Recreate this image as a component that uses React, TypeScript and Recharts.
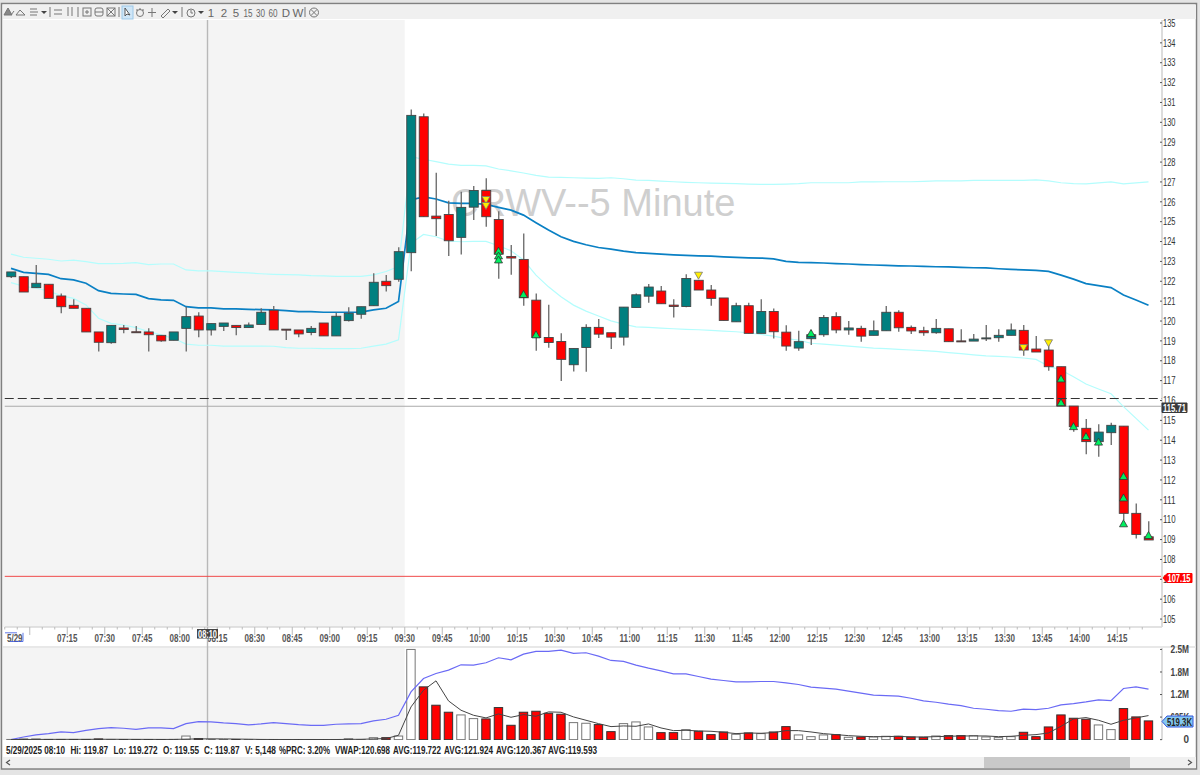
import React from "react";
import { ComposedChart, Bar, Line, XAxis, YAxis, ReferenceArea, ReferenceLine } from "recharts";

const times = ["06:50","06:55","07:00","07:05","07:10","07:15","07:20","07:25","07:30","07:35","07:40","07:45","07:50","07:55","08:00","08:05","08:10","08:15","08:20","08:25","08:30","08:35","08:40","08:45","08:50","08:55","09:00","09:05","09:10","09:15","09:20","09:25","09:30","09:35","09:40","09:45","09:50","09:55","10:00","10:05","10:10","10:15","10:20","10:25","10:30","10:35","10:40","10:45","10:50","10:55","11:00","11:05","11:10","11:15","11:20","11:25","11:30","11:35","11:40","11:45","11:50","11:55","12:00","12:05","12:10","12:15","12:20","12:25","12:30","12:35","12:40","12:45","12:50","12:55","13:00","13:05","13:10","13:15","13:20","13:25","13:30","13:35","13:40","13:45","13:50","13:55","14:00","14:05","14:10","14:15","14:20","14:25"];
const opens = [122.23,122.23,121.68,121.85,121.26,120.79,120.64,119.45,118.91,119.65,119.46,119.45,119.28,119.03,119.63,120.25,119.55,119.73,119.78,119.67,119.83,120.54,119.59,119.55,119.42,119.90,119.25,120.02,120.34,120.77,122.00,122.10,123.44,130.28,125.28,125.36,124.21,125.73,126.57,125.11,123.25,123.10,121.05,119.17,118.97,117.80,118.67,119.68,119.41,119.19,120.68,121.25,121.51,120.80,120.73,122.05,121.56,121.16,119.96,120.77,119.38,120.48,119.44,118.64,119.11,119.31,120.22,119.55,119.63,119.28,119.51,120.44,119.68,119.51,119.41,119.61,119.00,118.99,119.13,119.16,119.28,119.53,118.59,118.54,117.70,115.72,114.60,113.93,114.38,114.71,110.32,109.14];
const closes = [122.47,121.46,121.90,121.14,120.72,120.64,119.45,118.93,119.78,119.57,119.44,119.31,119.00,119.45,120.22,119.55,119.87,119.90,119.67,119.80,120.44,119.55,119.57,119.35,119.63,119.25,120.24,120.39,120.72,121.95,121.78,123.49,130.35,125.25,125.15,124.04,125.72,126.57,125.25,123.37,123.17,121.17,119.17,118.92,118.07,118.62,119.68,119.34,119.19,120.70,121.32,121.71,120.87,120.73,122.14,121.56,121.14,120.03,120.77,119.38,120.48,119.46,118.74,118.96,119.31,120.18,119.55,119.65,119.24,119.51,120.44,119.66,119.50,119.41,119.63,118.96,118.98,119.09,119.15,119.28,119.55,118.54,118.44,117.70,115.72,114.68,113.93,114.41,114.75,110.32,109.26,108.98];
const highs = [122.47,122.23,122.82,121.85,121.39,121.09,120.64,119.45,119.78,119.80,119.75,119.63,119.28,119.45,120.72,120.44,119.87,119.90,119.78,119.92,120.64,120.76,119.59,119.55,119.75,119.90,120.42,120.69,120.72,122.40,122.32,123.71,130.65,130.45,127.46,126.05,126.51,126.79,127.18,125.53,123.82,124.41,121.39,120.82,119.38,118.62,119.84,120.10,119.41,120.70,121.39,121.86,121.76,121.10,122.36,122.05,121.81,121.16,120.92,120.92,121.10,120.63,119.79,119.51,119.55,120.30,120.44,120.00,119.76,120.03,120.75,120.54,119.78,119.71,120.10,119.61,119.58,119.35,119.80,119.58,119.88,119.80,119.24,118.79,117.70,115.72,115.07,114.80,114.88,114.71,110.82,109.92];
const lows = [122.17,121.46,121.68,121.14,120.39,120.64,119.45,118.46,118.85,119.38,119.44,118.46,118.96,119.03,118.46,119.18,119.272,119.50,119.28,119.67,119.83,119.55,119.05,119.18,119.28,119.25,119.25,119.97,120.12,120.77,121.48,121.98,122.51,125.25,124.28,123.27,123.35,125.08,124.74,122.13,122.33,120.77,118.50,118.65,116.98,117.46,117.45,119.14,118.59,118.77,120.68,120.92,120.87,120.18,120.69,121.56,120.77,120.03,119.96,119.38,119.38,119.12,118.50,118.50,118.79,119.21,119.38,119.31,118.96,119.28,119.51,119.46,119.35,119.26,119.36,118.96,118.98,118.99,118.99,118.96,119.28,118.25,118.44,117.50,115.72,114.43,113.30,113.17,113.76,109.98,109.06,108.98];
const avgMid = [122.65,122.45,122.40,122.35,122.13,122.07,121.90,121.53,121.39,121.36,121.34,121.13,121.06,121.04,120.72,120.66,120.66,120.61,120.61,120.59,120.57,120.56,120.52,120.47,120.47,120.44,120.44,120.44,120.45,120.56,120.64,120.98,126.09,126.25,126.14,125.95,125.92,125.92,125.87,125.72,125.58,125.33,124.95,124.58,124.24,124.01,123.84,123.70,123.62,123.52,123.44,123.40,123.37,123.33,123.30,123.28,123.27,123.23,123.20,123.18,123.17,123.13,123.00,122.95,122.94,122.92,122.89,122.87,122.84,122.82,122.80,122.78,122.77,122.75,122.73,122.72,122.70,122.68,122.67,122.63,122.60,122.57,122.55,122.50,122.31,122.11,121.88,121.78,121.68,121.31,121.06,120.79];
const avgUpper = [123.37,123.21,123.16,123.11,123.02,123.06,122.99,122.89,122.89,122.90,122.94,122.84,122.87,122.87,122.57,122.52,122.52,122.49,122.45,122.42,122.38,122.35,122.33,122.32,122.28,122.27,122.25,122.25,122.25,122.32,122.49,122.74,128.27,128.14,128.02,127.90,127.83,127.83,127.81,127.65,127.56,127.45,127.33,127.24,127.23,127.21,127.19,127.18,127.21,127.16,127.09,127.08,127.04,127.01,126.98,126.96,126.94,126.93,126.91,126.89,126.88,126.88,126.89,126.91,126.96,126.96,126.96,126.96,127.00,127.00,127.01,127.01,127.01,127.03,127.05,127.05,127.05,127.08,127.08,127.08,127.08,127.08,127.10,127.05,126.96,126.91,126.90,126.95,127.00,126.90,126.95,127.00];
const avgLower = [121.93,121.76,121.65,121.51,121.28,121.14,120.81,120.14,119.88,119.80,119.67,119.47,119.30,119.13,118.84,118.78,118.78,118.74,118.74,118.74,118.74,118.73,118.66,118.63,118.63,118.61,118.61,118.61,118.63,118.74,118.84,119.05,123.91,124.36,124.24,124.02,123.99,124.01,124.01,123.79,123.54,123.07,122.31,121.72,121.22,120.80,120.50,120.25,120.01,119.84,119.71,119.68,119.64,119.61,119.58,119.56,119.53,119.49,119.46,119.41,119.32,119.24,119.11,119.04,118.88,118.84,118.79,118.74,118.69,118.64,118.61,118.57,118.54,118.51,118.47,118.41,118.36,118.30,118.25,118.22,118.19,118.14,118.07,117.73,117.53,117.20,116.83,116.58,116.34,115.69,115.10,114.51];
const greenMarks = [[39,123.54],[39,123.3],[39,123.1],[41,121.36],[42,119.33],[64,119.40],[84,117.11],[84,115.91],[85,114.71],[86,114.21],[87,113.93],[89,112.2],[89,111.12],[89,109.82],[91,109.23]];
const yellowMarks = [[38,126.09],[38,125.79],[55,122.28],[81,118.64],[83,118.88]];
const volumes = [5,15,20,5,5,5,5,20,5,4,4,4,4,6,100,30,5.148,4,3,3,3,4,3,3,3,3,4,25,5,55,55,100,2500,1463,954,760,685,583,574,889,398,760,787,731,704,472,454,417,222,444,491,352,194,194,278,231,139,213,148,185,167,213,361,130,83,130,139,65,74,74,93,93,74,65,102,111,111,111,74,56,83,204,83,352,685,593,565,407,278,861,630,519.3];
const volAvgBlue = [0,74,130,167,213,194,259,306,333,315,287,324,324,306,444,500,491,463,444,407,435,472,444,417,398,398,426,435,444,519,565,676,1324,1695,1833,1926,2074,2065,2130,2269,2213,2371,2445,2445,2482,2389,2408,2315,2195,2167,2065,1982,1908,1824,1824,1750,1676,1639,1602,1602,1611,1611,1574,1528,1454,1426,1398,1343,1287,1232,1222,1204,1148,1074,1037,982,945,870,843,806,787,843,833,870,963,1000,1046,1102,1083,1417,1463,1398];
const volAvgBlack = [2,4,6,7,8,8,8,10,10,9,8,7,6,6,14,20,22,20,16,12,6,4,4,4,4,3,3,8,9,20,30,120,907,1370,1630,1074,815,676,602,713,620,694,648,769,759,630,537,444,361,380,370,435,324,250,259,241,232,204,167,185,176,194,250,250,213,167,139,111,93,83,83,93,74,74,83,93,102,102,102,83,93,120,139,185,370,574,611,537,426,537,602,667];
const priceTicks = [105,106,107,108,109,110,111,112,113,114,115,116,117,118,119,120,121,122,123,124,125,126,127,128,129,130,131,132,133,134,135];
const volumeTicks = [0,625,1250,1875,2500];
const volumeTickLabels = ["0","625K","1.2M","1.8M","2.5M"];
const statusSegments = [
  ["5/29/2025 08:10", 6, 59], ["Hi: 119.87", 70.5, 37.5], ["Lo: 119.272", 113.5, 44], ["O: 119.55", 163, 36],
  ["C: 119.87", 204, 35.5], ["V: 5,148", 245, 31], ["%PRC: 3.20%", 279, 51], ["VWAP:120.698", 335, 55],
  ["AVG:119.722", 393, 48], ["AVG:121.924", 444, 49], ["AVG:120.367", 496, 50], ["AVG:119.593", 548, 49],
] as const;
const toolbarLabels = [["1",211],["2",224],["5",236],["15",248],["30",260.5],["60",273],["D",286],["W",298]] as const;

const FONT = '"Liberation Sans", Arial, sans-serif';
const TEAL = "#008080";
const RED = "#ff0000";

const markKey = (rows: any[], marks: number[][], prefix: string) => {
  const seen: Record<number, number> = {};
  marks.forEach(([i, p]) => {
    seen[i] = (seen[i] || 0) + 1;
    rows[i][prefix + seen[i]] = p;
  });
};
const priceRows: any[] = times.map((t, i) => ({
  t, o: opens[i], h: highs[i], l: lows[i], c: closes[i],
  range: [lows[i], highs[i]], mid: avgMid[i], upper: avgUpper[i], lower: avgLower[i],
}));
markKey(priceRows, greenMarks, "g");
markKey(priceRows, yellowMarks, "y");
const volumeRows = times.map((t, i) => ({ t, v: volumes[i], up: closes[i] >= opens[i], blue: volAvgBlue[i], black: volAvgBlack[i] }));

const Candle = (p: any) => {
  const { x, y, width, height, payload } = p;
  const { o, h, l, c } = payload;
  const k = height / (h - l);
  const top = y + (h - Math.max(o, c)) * k;
  const bh = Math.max(Math.abs(o - c) * k, 1);
  const cx = x + width / 2;
  return (
    <g>
      <line x1={cx} x2={cx} y1={y} y2={y + height} stroke="#666" strokeWidth={1.3} />
      <rect x={x} y={top} width={width} height={bh} fill={c >= o ? TEAL : RED} stroke="#444" strokeWidth={0.9} />
    </g>
  );
};

const VolBar = (p: any) => {
  const { x, y, width, height, payload } = p;
  return <rect x={x} y={y} width={width} height={Math.max(height, 0.6)} fill={payload.up ? "#fff" : RED} stroke={payload.up ? "#777" : "#333"} strokeWidth={1} />;
};

const tri = (color: string, stroke: string, down: boolean) => (p: any) => {
  const { cx, cy, value, key } = p;
  if (value == null || cy == null) return <g key={key} />;
  const d = down
    ? `M${cx - 4},${cy - 3.5}L${cx + 4},${cy - 3.5}L${cx},${cy + 3.5}Z`
    : `M${cx - 4},${cy + 3.5}L${cx + 4},${cy + 3.5}L${cx},${cy - 3.5}Z`;
  return <path key={key} d={d} fill={color} stroke={stroke} strokeWidth={0.8} />;
};
const GreenTri = tri("#00f060", "#333", false);
const YellowTri = tri("#ffee00", "#777", true);

const TimeTick = (p: any) => {
  const { x, y, payload } = p;
  const t: string = payload.value;
  const major = /:(00|15|30|45)$/.test(t);
  const tx = x - 6.25;
  return (
    <g>
      <line x1={tx} x2={tx} y1={y} y2={y + (major ? 8 : 2.5)} stroke="#bbb" strokeWidth={1} />
      {major && t !== "07:00" ? (
        <text x={tx} y={y + 14.5} textAnchor="middle" fontFamily={FONT} fontSize={10} fontWeight={700} fill="#555" textLength={20.5} lengthAdjust="spacingAndGlyphs">{t}</text>
      ) : null}
    </g>
  );
};

const PriceTick = (p: any) => {
  const { x, y, payload } = p;
  return (
    <g>
      <line x1={x - 2} x2={x} y1={y} y2={y} stroke="#555" strokeWidth={1} />
      <text x={x + 1} y={y + 3.7} fontFamily={FONT} fontSize={10} fill="#333" textLength={12.5} lengthAdjust="spacingAndGlyphs">{payload.value}</text>
    </g>
  );
};

const VolumeTick = (p: any) => {
  const { x, y, payload } = p;
  const label = volumeTickLabels[volumeTicks.indexOf(payload.value)];
  return (
    <g>
      <line x1={x - 2} x2={x} y1={y} y2={y} stroke="#555" strokeWidth={1} />
      <text x={1189} y={y + 3.7} textAnchor="end" fontFamily={FONT} fontSize={10} fontWeight={700} fill="#444" textLength={label.length > 1 ? 18.5 : 5.5} lengthAdjust="spacingAndGlyphs">{label}</text>
    </g>
  );
};

const CrossHair = (p: any) => <line x1={207.5} x2={207.5} y1={p.y1} y2={p.y2} stroke="#b8b8b8" strokeWidth={1.4} />;

const Tag = ({ d, fill, stroke, x, y, text, color, w }: any) => (
  <g>
    <path d={d} fill={fill} stroke={stroke} />
    <text x={x} y={y} fontFamily={FONT} fontSize={10} fontWeight={700} fill={color} textAnchor="middle" textLength={w} lengthAdjust="spacingAndGlyphs">{text}</text>
  </g>
);

const Toolbar = () => (
  <g stroke="#777" fill="none" strokeWidth={1}>
    <path d="M4,15L8,8L12,15Z M11,15L14,11" fill="#888" />
    <path d="M16,15L20,10L25,15Z" />
    <path d="M30,9H37M30,12H38M30,15H37" />
    <path d="M41,11H47L44,14Z" fill="#444" stroke="none" />
    <path d="M50,7V17M54,10H62M54,14H62M68,7V16M72,7V16M78,7V17" />
    <rect x="83" y="8" width="8" height="8" /><path d="M87,10V14M85,12H89" />
    <rect x="95" y="8" width="8" height="8" rx="2" /><path d="M95,12H103" />
    <rect x="107" y="8" width="8" height="8" /><path d="M107,8L115,16M115,8L107,16" />
    <path d="M119,7V17" />
    <rect x="122" y="6" width="11" height="13" fill="#cfe6f7" stroke="#9cc8e8" />
    <path d="M125,8L125,16L127,14L130,15Z" fill="#fff" stroke="#555" />
    <circle cx="140" cy="13" r="3.5" /><path d="M137,11V9M140,10V8M143,11V9" />
    <path d="M152,8V17M148,12.5H156" />
    <path d="M161,16L168,9L170,11L163,18Z" />
    <path d="M172,11H178L175,14Z" fill="#444" stroke="none" />
    <path d="M182,7V17" />
    <circle cx="191" cy="13" r="4" /><path d="M191,10V13H193" />
    <path d="M198,11H204L201,14Z" fill="#444" stroke="none" />
    <path d="M305,7V17" />
    <circle cx="314" cy="12.5" r="4.5" /><path d="M311,9.5L317,15.5M317,9.5L311,15.5" />
    {toolbarLabels.map(([l, x]) => (
      <text key={l} x={x} y={16.5} textAnchor="middle" fontFamily={FONT} fontSize={11.5} fill="#666" stroke="none" textLength={l.length > 1 ? 9 : undefined} lengthAdjust="spacingAndGlyphs">{l}</text>
    ))}
  </g>
);

export default function App() {
  const commonX = { dataKey: "t", padding: { left: 0, right: 7.25 }, scale: "band" as const };
  const priceDomain: [number, number] = [104.6, 135.15];
  return (
    <div style={{ position: "absolute", left: 0, top: 0, width: 1200, height: 775, background: "#e4e4e4", overflow: "hidden" }}>
      <svg width={1200} height={775} style={{ position: "absolute", left: 0, top: 0 }}>
        <rect x={1.5} y={3.5} width={1195} height={765.5} fill="#fff" stroke="#808080" strokeWidth={1.5} />
        <rect x={3} y={5} width={1193} height={14} fill="#f0f0f0" />
        <rect x={3} y={20} width={2} height={607} fill="#f4f4f4" />
        <rect x={3} y={648} width={2} height={92} fill="#f4f4f4" />
        <text x={451} y={215.7} fontFamily={FONT} fontSize={38} fill="#cfcfcf">CRWV--5 Minute</text>
        <rect x={3} y={757} width={1193} height={11} fill="#f0f0f0" />
        <rect x={984} y={757} width={146} height={11} fill="#c9c9c9" />
        <path d="M10,760L6.5,762.5L10,765" fill="none" stroke="#555" strokeWidth={1.2} />
        <path d="M1188,760L1191.5,762.5L1188,765" fill="none" stroke="#555" strokeWidth={1.2} />
        <rect x={3} y={646} width={1193} height={2} fill="#e8e8e8" />
      </svg>

      <div style={{ position: "absolute", left: 0, top: 0 }}>
        <ComposedChart width={1200} height={647} data={priceRows} margin={{ top: 20, right: 0, bottom: 0, left: 4.75 }}>
          <XAxis {...commonX} height={20} interval={0} tick={<TimeTick />} tickSize={0} tickMargin={0} tickLine={false} axisLine={{ stroke: "#d8d8d8", strokeWidth: 1.5 }} />
          <YAxis orientation="right" width={38} domain={priceDomain} ticks={priceTicks} interval={0} allowDataOverflow tickSize={0} tickMargin={0} tickLine={false} axisLine={{ stroke: "#dcdcdc", strokeWidth: 2 }} tick={<PriceTick />} />
          <ReferenceArea x1="06:50" x2="09:25" fill="#f4f4f4" fillOpacity={1} stroke="none" />
          <ReferenceLine x="08:10" shape={<CrossHair />} />
          <ReferenceLine y={115.71} stroke="#aaaaaa" strokeWidth={1} />
          <ReferenceLine y={107.15} stroke="#f04a4a" strokeWidth={1} />
          <Line dataKey="upper" stroke="#b4fdfd" strokeWidth={1.2} dot={false} activeDot={false} isAnimationActive={false} type="linear" />
          <Line dataKey="lower" stroke="#b4fdfd" strokeWidth={1.2} dot={false} activeDot={false} isAnimationActive={false} type="linear" />
          <Line dataKey="mid" stroke="#0a80c4" strokeWidth={1.7} dot={false} activeDot={false} isAnimationActive={false} type="linear" />
        </ComposedChart>
      </div>

      <div style={{ position: "absolute", left: 0, top: 0 }}>
        <ComposedChart width={1200} height={647} data={priceRows} margin={{ top: 20, right: 38, bottom: 20, left: 4.75 }} barSize={9}>
          <XAxis {...commonX} hide />
          <YAxis hide domain={priceDomain} allowDataOverflow />
          <Bar dataKey="range" shape={<Candle />} isAnimationActive={false} />
          <ReferenceLine y={116.1} stroke="#333" strokeWidth={1} strokeDasharray="9 4" />
          {["g1", "g2", "g3"].map((k) => (
            <Line key={k} dataKey={k} stroke="none" dot={GreenTri} activeDot={false} isAnimationActive={false} />
          ))}
          {["y1", "y2"].map((k) => (
            <Line key={k} dataKey={k} stroke="none" dot={YellowTri} activeDot={false} isAnimationActive={false} />
          ))}
        </ComposedChart>
      </div>

      <div style={{ position: "absolute", left: 0, top: 638 }}>
        <ComposedChart width={1200} height={112} data={volumeRows} margin={{ top: 10, right: 0, bottom: 10, left: 4.75 }} barSize={8.4}>
          <XAxis {...commonX} hide />
          <YAxis orientation="right" width={38} domain={[-10, 2540]} ticks={volumeTicks} interval={0} allowDataOverflow tickSize={0} tickMargin={0} tickLine={false} axisLine={{ stroke: "#dcdcdc", strokeWidth: 2 }} tick={<VolumeTick />} />
          <ReferenceArea x1="06:50" x2="09:25" fill="#f4f4f4" fillOpacity={1} stroke="none" />
          <ReferenceLine x="08:10" shape={<CrossHair />} />
          <Bar dataKey="v" shape={<VolBar />} isAnimationActive={false} />
          <Line dataKey="blue" stroke="#6a6af5" strokeWidth={1.2} dot={false} activeDot={false} isAnimationActive={false} type="linear" />
          <Line dataKey="black" stroke="#444" strokeWidth={1} dot={false} activeDot={false} isAnimationActive={false} type="linear" />
        </ComposedChart>
      </div>

      <svg width={1200} height={775} style={{ position: "absolute", left: 0, top: 0 }}>
        <Toolbar />
        <line x1={207.5} x2={207.5} y1={627} y2={648} stroke="#b8b8b8" strokeWidth={1.4} />
        <rect x={197} y={629} width={21} height={9.5} fill="#444" />
        <text x={207.5} y={637.5} textAnchor="middle" fontFamily={FONT} fontSize={10} fontWeight={700} fill="#fff" textLength={19} lengthAdjust="spacingAndGlyphs">08:10</text>
        <text x={7} y={641.5} fontFamily={FONT} fontSize={10} fontWeight={700} fill="#555" textLength={15.5} lengthAdjust="spacingAndGlyphs">5/29</text>
        <path d="M5,632.8H17M23,632.8V641.5H10" fill="none" stroke="#3a55e0" strokeWidth={0.8} />
        {statusSegments.map(([s, x, w]) => (
          <text key={s} x={x} y={754} fontFamily={FONT} fontSize={10} fontWeight={700} fill="#222" textLength={w} lengthAdjust="spacingAndGlyphs">{s}</text>
        ))}
        <Tag d="M1162,403H1187V412.5H1162Z" fill="#3a3a3a" stroke="#3a3a3a" x={1174.5} y={411.5} text="115.71" color="#fff" w={23} />
        <Tag d="M1163,578L1167,573.5H1192V582.5H1167Z" fill="#ff0000" stroke="#ff0000" x={1179} y={581.5} text="107.15" color="#fff" w={23} />
        <Tag d="M1162,721.5L1167,716H1193V727H1167Z" fill="#84c8f0" stroke="#3355dd" x={1179.5} y={725.5} text="519.3K" color="#222" w={25} />
      </svg>
    </div>
  );
}
